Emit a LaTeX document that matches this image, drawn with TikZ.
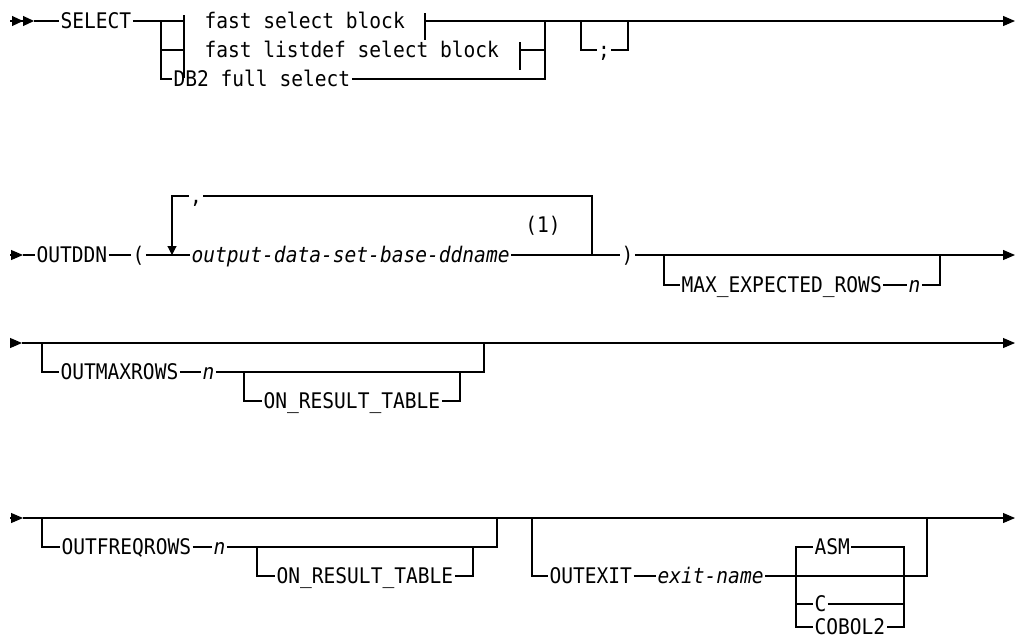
\documentclass[tikz,border=0pt]{standalone}
\usepackage{fontspec}
\newfontfamily\railfont{DejaVu Sans Mono}[FakeStretch=0.91]
\usetikzlibrary{arrows.meta}
\newcommand{\railsize}{\fontsize{21.5pt}{24pt}\selectfont}
\tikzset{
  kw/.style={font=\railfont\railsize, inner xsep=1pt, inner ysep=0pt,
    text height=15.6pt, text depth=0pt, anchor=west},
  var/.style={kw, font=\railfont\railsize\itshape},
  fin/.style={-{Triangle[length=12pt,width=10pt]}},
  debut/.style={-{Triangle[length=11pt,width=10pt]Triangle[length=11pt,width=10pt]}},
  boucle/.style={-{Triangle[length=9pt,width=9pt]}}
}
\begin{document}
\begin{tikzpicture}[x=1pt,y=-1pt,line width=1.1pt]
\useasboundingbox (0,0) rectangle (1015,641);
% SELECT
\coordinate (in1) at (10,21);
\coordinate (in1e) at (34,21);
\coordinate (ja) at (161,21);
\coordinate (fa) at (184,21);
\coordinate (fb) at (425,21);
\coordinate (fc) at (520,50);
\coordinate (jb) at (545,21);
\coordinate (sa) at (581,21);
\coordinate (sb) at (628,21);
\coordinate (out1) at (1015,21);
\node[kw] (select) at (59,21) {SELECT};
\node[kw] (fsb) at (203,21) {fast select block};
\node[kw] (flsb) at (203,50) {fast listdef select block};
\node[kw] (db2) at (172,79) {DB2 full select};
\node[kw,anchor=center] (semi) at (604,50) {;};
\draw[debut] (in1) -- (in1e);
\draw (in1e) -- (select) -- (fa);
\draw (ja) |- (db2);
\draw (ja |- flsb) -- (fa |- flsb);
\draw ([yshift=6pt]fa) -- ([yshift=-57pt]fa);
\draw ([yshift=8pt]fb) -- ([yshift=-19pt]fb);
\draw ([yshift=8pt]fc) -- ([yshift=-20pt]fc);
\draw[fin] (fb) -- (out1);
\draw (fc) -- (jb |- fc);
\draw (db2) -| (jb);
\draw (sa) |- (semi) -| (sb);
% OUTDDN
\coordinate (in2) at (10,255);
\coordinate (in2e) at (23,255);
\coordinate (la) at (172,255);
\coordinate (lb) at (592,255);
\coordinate (ma) at (664,255);
\coordinate (mb) at (940,255);
\coordinate (out2) at (1015,255);
\node[kw] (outddn) at (35,255) {OUTDDN};
\node[kw] (lpar) at (131,255) {(};
\node[var] (ddname) at (190,255) {output-data-set-base-ddname};
\node[kw,anchor=center] (comma) at (196,196) {,};
\node[kw,anchor=center] (note) at (543,225) {(1)};
\node[kw] (rpar) at (620,255) {)};
\node[kw] (maxrows) at (680,285) {MAX\_EXPECTED\_ROWS};
\node[var] (n1) at (907,285) {n};
\draw[fin] (in2) -- (in2e);
\draw (in2e) -- (outddn);
\draw (outddn) -- (lpar);
\draw (lpar) -- (ddname);
\draw (ddname) -- (rpar);
\draw[boucle] (comma) -| (la);
\draw (comma) -| (lb);
\draw[fin] (rpar) -- (out2);
\draw (ma) |- (maxrows);
\draw (maxrows) -- (n1);
\draw (n1) -| (mb);
% OUTMAXROWS
\coordinate (in3) at (10,343);
\coordinate (in3e) at (22,343);
\coordinate (ra) at (42,343);
\coordinate (rb) at (484,343);
\coordinate (ia) at (244,372);
\coordinate (ib) at (460,372);
\coordinate (out3) at (1015,343);
\node[kw] (outmax) at (59,372) {OUTMAXROWS};
\node[var] (n2) at (201,372) {n};
\node[kw] (ort1) at (262,401) {ON\_RESULT\_TABLE};
\draw[fin] (in3) -- (in3e);
\draw[fin] (in3e) -- (out3);
\draw (ra) |- (outmax);
\draw (outmax) -- (n2);
\draw (n2) -| (rb);
\draw (ia) |- (ort1);
\draw (ort1) -| (ib);
% OUTFREQROWS, OUTEXIT
\coordinate (in4) at (10,518);
\coordinate (in4e) at (23,518);
\coordinate (qa) at (42,518);
\coordinate (qb) at (497,518);
\coordinate (ka) at (257,547);
\coordinate (kb) at (473,547);
\coordinate (ea) at (532,518);
\coordinate (eb) at (927,518);
\coordinate (ca) at (796,576);
\coordinate (cb) at (904,576);
\coordinate (out4) at (1015,518);
\node[kw] (outfreq) at (60,547) {OUTFREQROWS};
\node[var] (n3) at (212,547) {n};
\node[kw] (ort2) at (275,576) {ON\_RESULT\_TABLE};
\node[kw] (outexit) at (548,576) {OUTEXIT};
\node[var] (exitname) at (656,576) {exit-name};
\node[kw] (asm) at (813,547) {ASM};
\node[kw] (lc) at (813,604) {C};
\node[kw] (cobol) at (813,627) {COBOL2};
\draw[fin] (in4) -- (in4e);
\draw[fin] (in4e) -- (out4);
\draw (qa) |- (outfreq);
\draw (outfreq) -- (n3);
\draw (n3) -| (qb);
\draw (ka) |- (ort2);
\draw (ort2) -| (kb);
\draw (ea) |- (outexit);
\draw (outexit) -- (exitname);
\draw (exitname) -| (eb);
\draw (asm) -| (ca |- cobol) -- (cobol);
\draw (asm) -| (cb |- cobol) -- (cobol);
\draw (ca |- lc) -- (lc) -- (cb |- lc);
\end{tikzpicture}
\end{document}
